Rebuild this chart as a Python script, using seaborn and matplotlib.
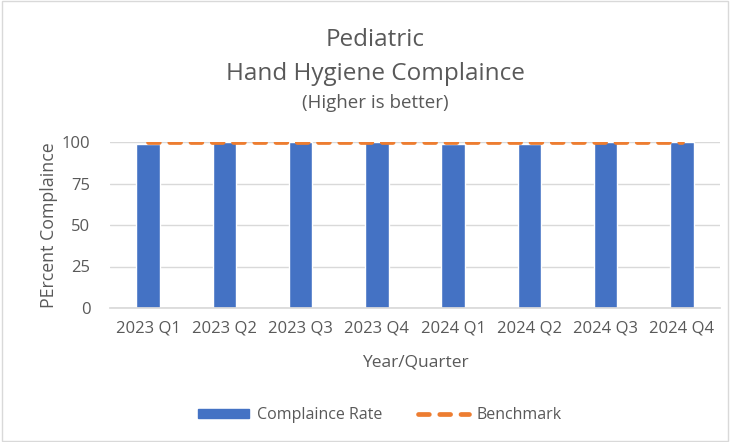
import numpy as np
import pandas as pd
import matplotlib
matplotlib.use("Agg")
import matplotlib.pyplot as plt
import seaborn as sns
from matplotlib.lines import Line2D
from matplotlib.patches import Patch, Rectangle

# Datos del gráfico
quarters = ["2023 Q1", "2023 Q2", "2023 Q3", "2023 Q4",
            "2024 Q1", "2024 Q2", "2024 Q3", "2024 Q4"]
compliance_rate = [99, 100, 100, 100, 99, 99, 100, 100]
benchmark = [100, 100, 100, 100, 100, 100, 100, 100]

df = pd.DataFrame({"Quarter": quarters, "Rate": compliance_rate, "Benchmark": benchmark})

sns.set_theme(style="white")
plt.rcParams["font.family"] = ["Open Sans", "DejaVu Sans"]

text_col = "#595959"
bar_col = "#4472C4"
line_col = "#ED7D31"
dash_style = (0, (2.3, 2.2))

fig = plt.figure(figsize=(7.3, 4.42), dpi=100)
fig.patches.append(Rectangle((0.003, 0.003), 0.994, 0.994, transform=fig.transFigure,
                             fill=False, edgecolor="#D9D9D9", linewidth=1))

# Área del gráfico
ax = fig.add_axes([110 / 730, 1 - 308 / 442, 610 / 730, 166 / 442])

sns.barplot(data=df, x="Quarter", y="Rate", color=bar_col, width=0.31,
            saturation=1, ax=ax, zorder=2)
sns.lineplot(data=df, x="Quarter", y="Benchmark", color=line_col, linewidth=3.4,
             linestyle=dash_style, dash_capstyle="round", ax=ax, zorder=3)

ax.set_ylim(0, 100)
ax.set_xlim(-0.5, len(quarters) - 0.5)
ax.set_yticks([0, 25, 50, 75, 100])
ax.yaxis.grid(True, color="#D9D9D9", linewidth=1)
ax.set_axisbelow(True)
for s in ["top", "right", "left"]:
    ax.spines[s].set_visible(False)
ax.spines["bottom"].set_color("#D9D9D9")
ax.tick_params(axis="both", length=0, labelsize=12, labelcolor=text_col)
ax.tick_params(axis="x", pad=9)
ax.tick_params(axis="y", pad=14)

ax.set_xlabel("Year/Quarter", fontsize=12.5, color=text_col, labelpad=13)
ax.set_ylabel("PErcent Complaince", fontsize=12.8, color=text_col, labelpad=3)

# Títulos
fig.text(375 / 730, 1 - 40 / 442, "Pediatric", ha="center", va="center",
         fontsize=17.5, color=text_col)
fig.text(375 / 730, 1 - 74 / 442, "Hand Hygiene Complaince", ha="center", va="center",
         fontsize=17.5, color=text_col)
fig.text(375 / 730, 1 - 103 / 442, "(Higher is better)", ha="center", va="center",
         fontsize=13.5, color=text_col)

# Leyenda
handles = [Patch(facecolor=bar_col, edgecolor=bar_col),
           Line2D([0], [0], color=line_col, linewidth=3.4, linestyle=dash_style,
                  dash_capstyle="round")]
fig.legend(handles, ["Complaince Rate", "Benchmark"], loc="center",
           bbox_to_anchor=(380 / 730, 1 - 415 / 442), ncol=2, frameon=False,
           fontsize=11.5, labelcolor=text_col, handlelength=3.2, handleheight=0.55,
           handletextpad=0.5, columnspacing=2.2)

fig.savefig("out.png", dpi=100)
